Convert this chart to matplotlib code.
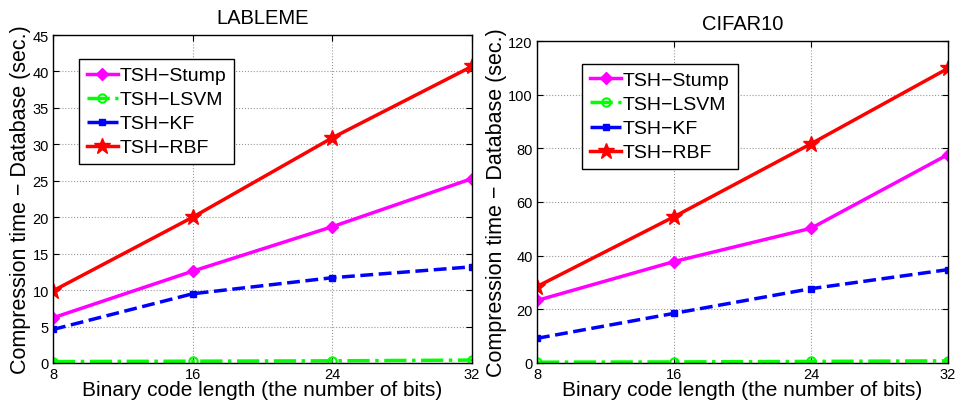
import matplotlib
matplotlib.use('Agg')
import matplotlib.pyplot as plt

plt.rcParams['font.family'] = ['Liberation Sans', 'DejaVu Sans']

bits = [8, 16, 24, 32]
names = ['TSH\u2212Stump', 'TSH\u2212LSVM', 'TSH\u2212KF', 'TSH\u2212RBF']

# LABLEME
lab_stump = [6.2, 12.6, 18.7, 25.3]
lab_lsvm = [0.2, 0.25, 0.3, 0.4]
lab_kf = [4.6, 9.5, 11.7, 13.2]
lab_rbf = [9.9, 20.0, 30.9, 40.7]

# CIFAR10
cif_stump = [23.3, 37.8, 50.2, 77.7]
cif_lsvm = [0.3, 0.4, 0.6, 0.8]
cif_kf = [9.2, 18.5, 27.7, 34.8]
cif_rbf = [28.5, 54.5, 81.7, 109.8]

styles = [
    dict(color='#ff00ff', ls='-', marker='D', ms=6, mfc='#ff00ff'),
    dict(color='#00ff00', ls='-.', marker='o', ms=6, mfc='none', mew=1.5),
    dict(color='#0000ff', ls='--', marker='s', ms=5, mfc='#0000ff'),
    dict(color='#ff0000', ls='-', marker='*', ms=12, mfc='#ff0000'),
]

fig = plt.figure(figsize=(9.55, 4.06), dpi=100)
ax1 = fig.add_axes([53/955, 1-364/406, 419/955, 328/406])
ax2 = fig.add_axes([537/955, 1-364/406, 411/955, 322/406])


def draw(ax, series, ymax, step, title, legpos):
    for s, st, nm in zip(series, styles, names):
        ax.plot(bits, s, lw=2.5, label=nm, **st)
    ax.set_xlim(8, 32)
    ax.set_ylim(0, ymax)
    ax.set_xticks(bits)
    ax.set_yticks(range(0, ymax + 1, step))
    ax.tick_params(direction='in', labelsize=10.5, length=4, pad=3, top=True, right=True)
    ax.grid(True, ls=':', color='#999999', lw=0.8)
    ax.set_title(title, fontsize=14.5, pad=9)
    ax.set_xlabel('Binary code length (the number of bits)', fontsize=15, labelpad=-1)
    ax.set_ylabel('Compression time \u2212 Database (sec.)', fontsize=15.5, labelpad=1)
    leg = ax.legend(loc='upper left', bbox_to_anchor=legpos, fontsize=14,
                    fancybox=False, framealpha=1, edgecolor='black',
                    handlelength=1.6, handletextpad=0.1, borderpad=0.4,
                    labelspacing=0.33, borderaxespad=0)
    leg.get_frame().set_linewidth(1.0)
    for sp in ax.spines.values():
        sp.set_linewidth(1.0)


draw(ax1, [lab_stump, lab_lsvm, lab_kf, lab_rbf], 45, 5, 'LABLEME', (0.062, 0.927))
draw(ax2, [cif_stump, cif_lsvm, cif_kf, cif_rbf], 120, 20, 'CIFAR10', (0.11, 0.929))

fig.savefig('out.png', dpi=100)
